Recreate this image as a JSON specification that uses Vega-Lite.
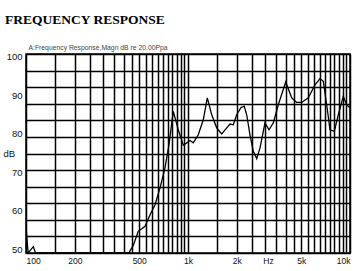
{
  "$schema": "https://vega.github.io/schema/vega-lite/v6.json",
  "autosize": {"type": "none"},
  "padding": {"left": 26, "top": 54, "right": 13, "bottom": 18},
  "width": 324,
  "height": 199,
  "background": "white",
  "title": {
    "text": "FREQUENCY RESPONSE",
    "anchor": "start",
    "frame": "group",
    "dx": -21,
    "dy": -14,
    "font": "Liberation Serif",
    "fontSize": 13.5,
    "fontWeight": "bold",
    "color": "#000"
  },
  "config": {
    "view": {"stroke": "#000", "strokeWidth": 1.5},
    "axis": {"labelFont": "Liberation Sans", "titleFont": "Liberation Sans", "labelColor": "#111", "titleColor": "#111", "titleFontWeight": "normal"}
  },
  "data": {
    "values": [
      {"freq": 100, "db": 55.8}, {"freq": 103, "db": 49.0}, {"freq": 111, "db": 50.6}, {"freq": 114.5, "db": 49.0},
      {"freq": 432, "db": 49.0}, {"freq": 460, "db": 51.0}, {"freq": 493, "db": 54.6}, {"freq": 543, "db": 55.9},
      {"freq": 583, "db": 58.9}, {"freq": 626, "db": 61.5}, {"freq": 672, "db": 65.9}, {"freq": 721, "db": 71.1},
      {"freq": 763, "db": 77.1}, {"freq": 811, "db": 85.8}, {"freq": 871, "db": 81.0}, {"freq": 935, "db": 77.0},
      {"freq": 982, "db": 77.6}, {"freq": 1029, "db": 78.2}, {"freq": 1078, "db": 77.6}, {"freq": 1157, "db": 79.7},
      {"freq": 1243, "db": 83.6}, {"freq": 1315, "db": 89.3}, {"freq": 1401, "db": 84.9}, {"freq": 1504, "db": 81.5},
      {"freq": 1614, "db": 79.9}, {"freq": 1734, "db": 81.5}, {"freq": 1817, "db": 82.5}, {"freq": 1904, "db": 82.3},
      {"freq": 1998, "db": 84.9}, {"freq": 2124, "db": 86.8}, {"freq": 2226, "db": 87.1}, {"freq": 2303, "db": 84.9},
      {"freq": 2413, "db": 79.7}, {"freq": 2530, "db": 75.4}, {"freq": 2656, "db": 73.5}, {"freq": 2783, "db": 76.3},
      {"freq": 2987, "db": 82.8}, {"freq": 3162, "db": 81.0}, {"freq": 3362, "db": 82.8}, {"freq": 3609, "db": 87.5},
      {"freq": 4010, "db": 93.4}, {"freq": 4366, "db": 89.3}, {"freq": 4688, "db": 88.1}, {"freq": 5034, "db": 88.1},
      {"freq": 5528, "db": 89.3}, {"freq": 6081, "db": 92.7}, {"freq": 6528, "db": 94.3}, {"freq": 6842, "db": 93.6},
      {"freq": 7181, "db": 87.5}, {"freq": 7525, "db": 81.0}, {"freq": 8000, "db": 80.6}, {"freq": 8470, "db": 84.9},
      {"freq": 9090, "db": 89.7}, {"freq": 9541, "db": 87.5}, {"freq": 10000, "db": 86.7}
    ]
  },
  "resolve": {"axis": {"y": "independent"}},
  "layer": [
    {
      "mark": {"type": "line", "color": "#000", "strokeWidth": 1.3, "clip": true},
      "encoding": {
        "x": {
          "field": "freq", "type": "quantitative",
          "scale": {"type": "log", "domain": [100, 10000], "nice": false},
          "axis": {
            "values": [100,150,200,250,300,350,400,450,500,550,600,650,700,750,800,850,900,950,1000,1500,2000,2500,3000,3500,4000,4500,5000,5500,6000,6500,7000,7500,8000,8500,9000,9500,10000],
            "grid": true, "gridColor": "#000", "gridOpacity": 1, "gridWidth": 1.5,
            "ticks": false, "domain": false,
            "labelExpr": "(datum.value==100||datum.value==200||datum.value==500) ? '' + datum.value : (datum.value==1000||datum.value==2000||datum.value==5000||datum.value==10000) ? (datum.value/1000) + 'k' : ''",
            "labelOverlap": false, "labelFlush": true, "labelFontSize": 8.5, "labelPadding": 3,
            "title": "Hz", "titleFontSize": 8.5, "titleX": 242, "titleY": 3, "titleBaseline": "top", "titleAlign": "center"
          }
        },
        "y": {
          "field": "db", "type": "quantitative",
          "scale": {"domain": [48.96, 100.7], "nice": false, "zero": false},
          "axis": {
            "orient": "left",
            "values": [100.7,96.388,92.077,87.765,83.453,79.142,74.83,70.518,66.206,61.895,57.583,53.271,48.96],
            "grid": true, "gridColor": "#000", "gridOpacity": 1, "gridWidth": 1.5,
            "labels": false, "ticks": false, "domain": false,
            "title": "A:Frequency Response,Magn dB re 20.00Ppa",
            "titleAngle": 0, "titleAlign": "left", "titleBaseline": "bottom",
            "titleX": 2, "titleY": -4, "titleFontSize": 6.8, "titleColor": "#444"
          }
        }
      }
    },
    {
      "mark": {"type": "line", "opacity": 0},
      "encoding": {
        "x": {"field": "freq", "type": "quantitative", "scale": {"type": "log", "domain": [100, 10000], "nice": false}},
        "y": {
          "field": "db", "type": "quantitative",
          "scale": {"domain": [48.96, 100.7], "nice": false, "zero": false},
          "axis": {
            "orient": "left",
            "values": [50, 60, 70, 80, 90, 100],
            "grid": false, "ticks": false, "domain": false,
            "labelFontSize": 9.5, "labelPadding": 4,
            "title": "dB", "titleAngle": 0, "titleAlign": "left", "titleBaseline": "middle",
            "titleX": -23, "titleY": 99, "titleFontSize": 9.5
          }
        }
      }
    }
  ]
}
